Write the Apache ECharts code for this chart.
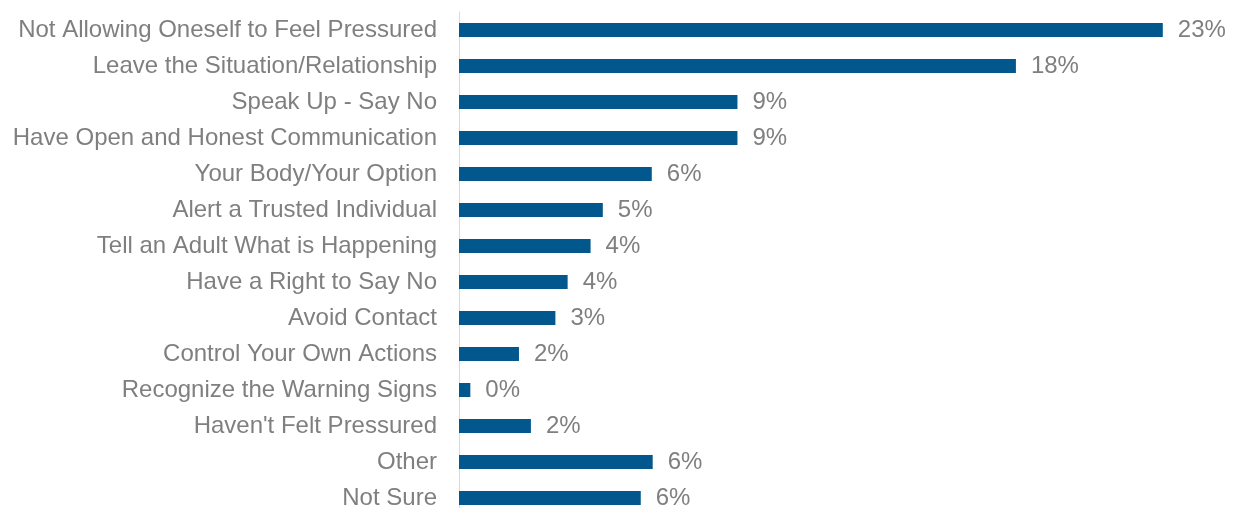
<!DOCTYPE html>
<html>
<head>
<meta charset="utf-8">
<style>
  html, body { margin: 0; padding: 0; background: #ffffff; overflow: hidden; }
  #chart { width: 1237px; height: 524px; }
</style>
<script src="https://cdn.jsdelivr.net/npm/echarts@6/dist/echarts.min.js"></script>
</head>
<body>
<div id="chart"></div>
<script>
// Responses, top to bottom
const categories = [
  'Not Allowing Oneself to Feel Pressured',
  'Leave the Situation/Relationship',
  'Speak Up - Say No',
  'Have Open and Honest Communication',
  'Your Body/Your Option',
  'Alert a Trusted Individual',
  'Tell an Adult What is Happening',
  'Have a Right to Say No',
  'Avoid Contact',
  'Control Your Own Actions',
  'Recognize the Warning Signs',
  "Haven't Felt Pressured",
  'Other',
  'Not Sure'
];

// Share of respondents, in percent (labels show whole percents)
const shares = [23.0, 18.2, 9.1, 9.1, 6.3, 4.7, 4.3, 3.55, 3.15, 1.96, 0.37, 2.35, 6.33, 5.94];

const FONT = "'Liberation Sans', Arial, sans-serif";
const TEXT_GRAY = '#7f7f7f';
const BAR_BLUE = '#02588c';

const chart = echarts.init(document.getElementById('chart'), null, { renderer: 'canvas' });

chart.setOption({
  animation: false,
  backgroundColor: '#ffffff',
  grid: {
    left: 459,
    width: 765,
    top: 12,
    height: 504,
    containLabel: false
  },
  xAxis: {
    type: 'value',
    min: 0,
    max: 25,
    show: false
  },
  yAxis: {
    type: 'category',
    data: categories,
    inverse: true,
    offset: 2,
    axisLine: { show: true, lineStyle: { color: '#d9d9d9', width: 1 } },
    axisTick: { show: false },
    splitLine: { show: false },
    axisLabel: {
      color: TEXT_GRAY,
      fontFamily: FONT,
      fontSize: 24,
      margin: 20,
      padding: [3, 0, 0, 0]
    }
  },
  series: [{
    type: 'bar',
    data: shares,
    barWidth: 14,
    itemStyle: { color: BAR_BLUE },
    label: {
      show: true,
      position: 'right',
      distance: 15,
      color: TEXT_GRAY,
      fontFamily: FONT,
      fontSize: 24,
      padding: [3, 0, 0, 0],
      formatter: p => Math.round(p.value) + '%'
    }
  }]
});
</script>
</body>
</html>
